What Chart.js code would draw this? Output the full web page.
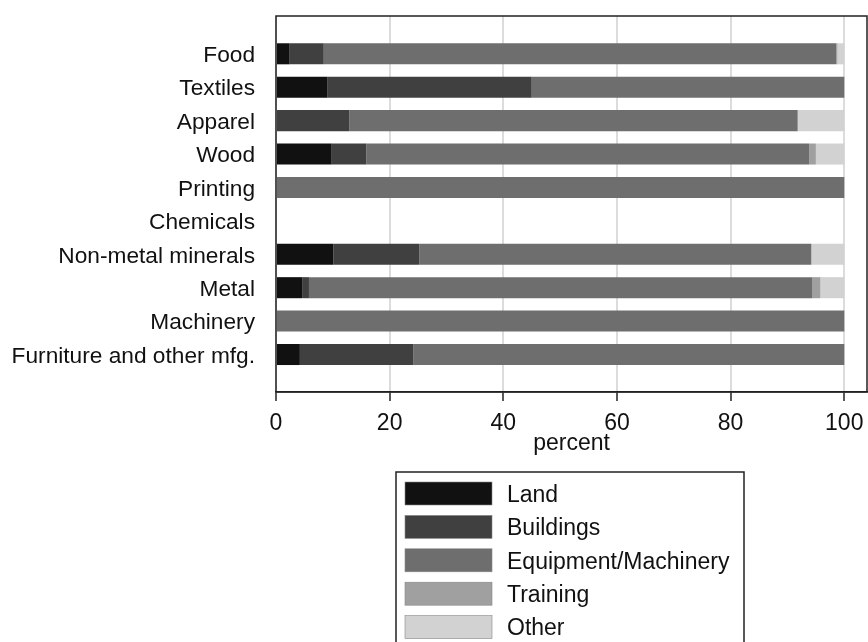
<!DOCTYPE html>
<html>
<head>
<meta charset="utf-8">
<script src="https://cdn.jsdelivr.net/npm/chart.js@4/dist/chart.umd.min.js"></script>
<style>
  html, body { margin: 0; padding: 0; background: #fff; }
  #wrap { width: 868px; height: 642px; }
</style>
</head>
<body>
<div id="wrap"><canvas id="c" width="868" height="642"></canvas></div>
<script>
const categories = ["Food", "Textiles", "Apparel", "Wood", "Printing", "Chemicals",
  "Non-metal minerals", "Metal", "Machinery", "Furniture and other mfg."];
const land      = [2.4, 9.0, 0,    9.8, 0,   0, 10.1, 4.6, 0,   4.2];
const buildings = [6.0, 36.0, 12.9, 6.1, 0,  0, 15.1, 1.2, 0,   20.0];
const equipment = [90.2, 55.0, 78.9, 77.9, 100, 0, 69.0, 88.6, 100, 75.8];
const training  = [0.2, 0,   0,    1.2, 0,   0, 0,    1.4, 0,   0];
const other     = [1.2, 0,   8.2,  5.0, 0,   0, 5.8,  4.2, 0,   0];
const seriesNames = ["Land", "Buildings", "Equipment/Machinery", "Training", "Other"];
const xTicks = [0, 20, 40, 60, 80, 100];

const colors = ["#111111", "#404040", "#6e6e6e", "#a0a0a0", "#d2d2d2"];
const FONT = "'Liberation Sans', Arial, sans-serif";

function toPts(arr) { return arr.map((v, i) => ({ x: v, y: i })); }

const seriesData = [land, buildings, equipment, training, other];
const datasets = seriesData.map((arr, k) => ({
  label: seriesNames[k],
  data: toPts(arr),
  backgroundColor: colors[k],
  borderWidth: 0,
  categoryPercentage: 1,
  barPercentage: 0.63
}));

const framePlugin = {
  id: 'frame',
  afterDraw(chart) {
    const { ctx, chartArea: a } = chart;
    ctx.save();
    ctx.strokeStyle = '#222';
    ctx.lineWidth = 1.5;
    ctx.strokeRect(a.left, a.top, a.right - a.left, a.bottom - a.top);
    // legend box
    const bx = 396, by = 472, bw = 348;
    ctx.lineWidth = 1.5;
    ctx.strokeStyle = '#222';
    ctx.strokeRect(bx, by, bw, 200);
    ctx.font = "23px " + FONT;
    ctx.textBaseline = 'middle';
    ctx.textAlign = 'left';
    chart.data.datasets.forEach((ds, i) => {
      const y = 482 + i * 33.4;
      ctx.fillStyle = ds.backgroundColor;
      ctx.fillRect(405, y, 87, 23);
      ctx.strokeStyle = '#888';
      ctx.lineWidth = 0.6;
      ctx.strokeRect(405, y, 87, 23);
      ctx.fillStyle = '#111';
      ctx.fillText(ds.label, 507, y + 13.5);
    });
    ctx.restore();
  }
};

new Chart(document.getElementById('c'), {
  type: 'bar',
  data: { datasets },
  plugins: [framePlugin],
  options: {
    indexAxis: 'y',
    responsive: false,
    animation: false,
    layout: { padding: { top: 16, right: 1, bottom: 185, left: 0 } },
    plugins: { legend: { display: false }, tooltip: { enabled: false } },
    scales: {
      x: {
        type: 'linear',
        stacked: true,
        min: 0,
        max: 104,
        afterBuildTicks: s => { s.ticks = xTicks.map(v => ({ value: v })); },
        afterFit: s => { s.height = 65; s.paddingLeft = 0; s.paddingRight = 0; },
        grid: { color: '#dcdcdc', lineWidth: 2, tickColor: '#222', tickLength: 9, tickWidth: 1.5 },
        border: { display: true, color: '#222', width: 1.5 },
        ticks: { font: { family: FONT, size: 23 }, color: '#111', padding: 9, maxRotation: 0 },
        title: { display: true, text: 'percent', font: { family: FONT, size: 23 }, color: '#111', padding: { top: 0, bottom: 0 } }
      },
      y: {
        type: 'linear',
        stacked: true,
        reverse: true,
        offset: false,
        min: -1.131,
        max: 10.122,
        afterBuildTicks: s => { s.ticks = categories.map((c, i) => ({ value: i })); },
        afterFit: s => { s.width = 276; s.paddingTop = 0; s.paddingBottom = 0; },
        grid: { display: false, offset: false },
        border: { display: false },
        ticks: {
          font: { family: FONT, size: 22.7 }, color: '#111', padding: 13, labelOffset: 2,
          callback: v => categories[v]
        }
      }
    }
  }
});
</script>
</body>
</html>
